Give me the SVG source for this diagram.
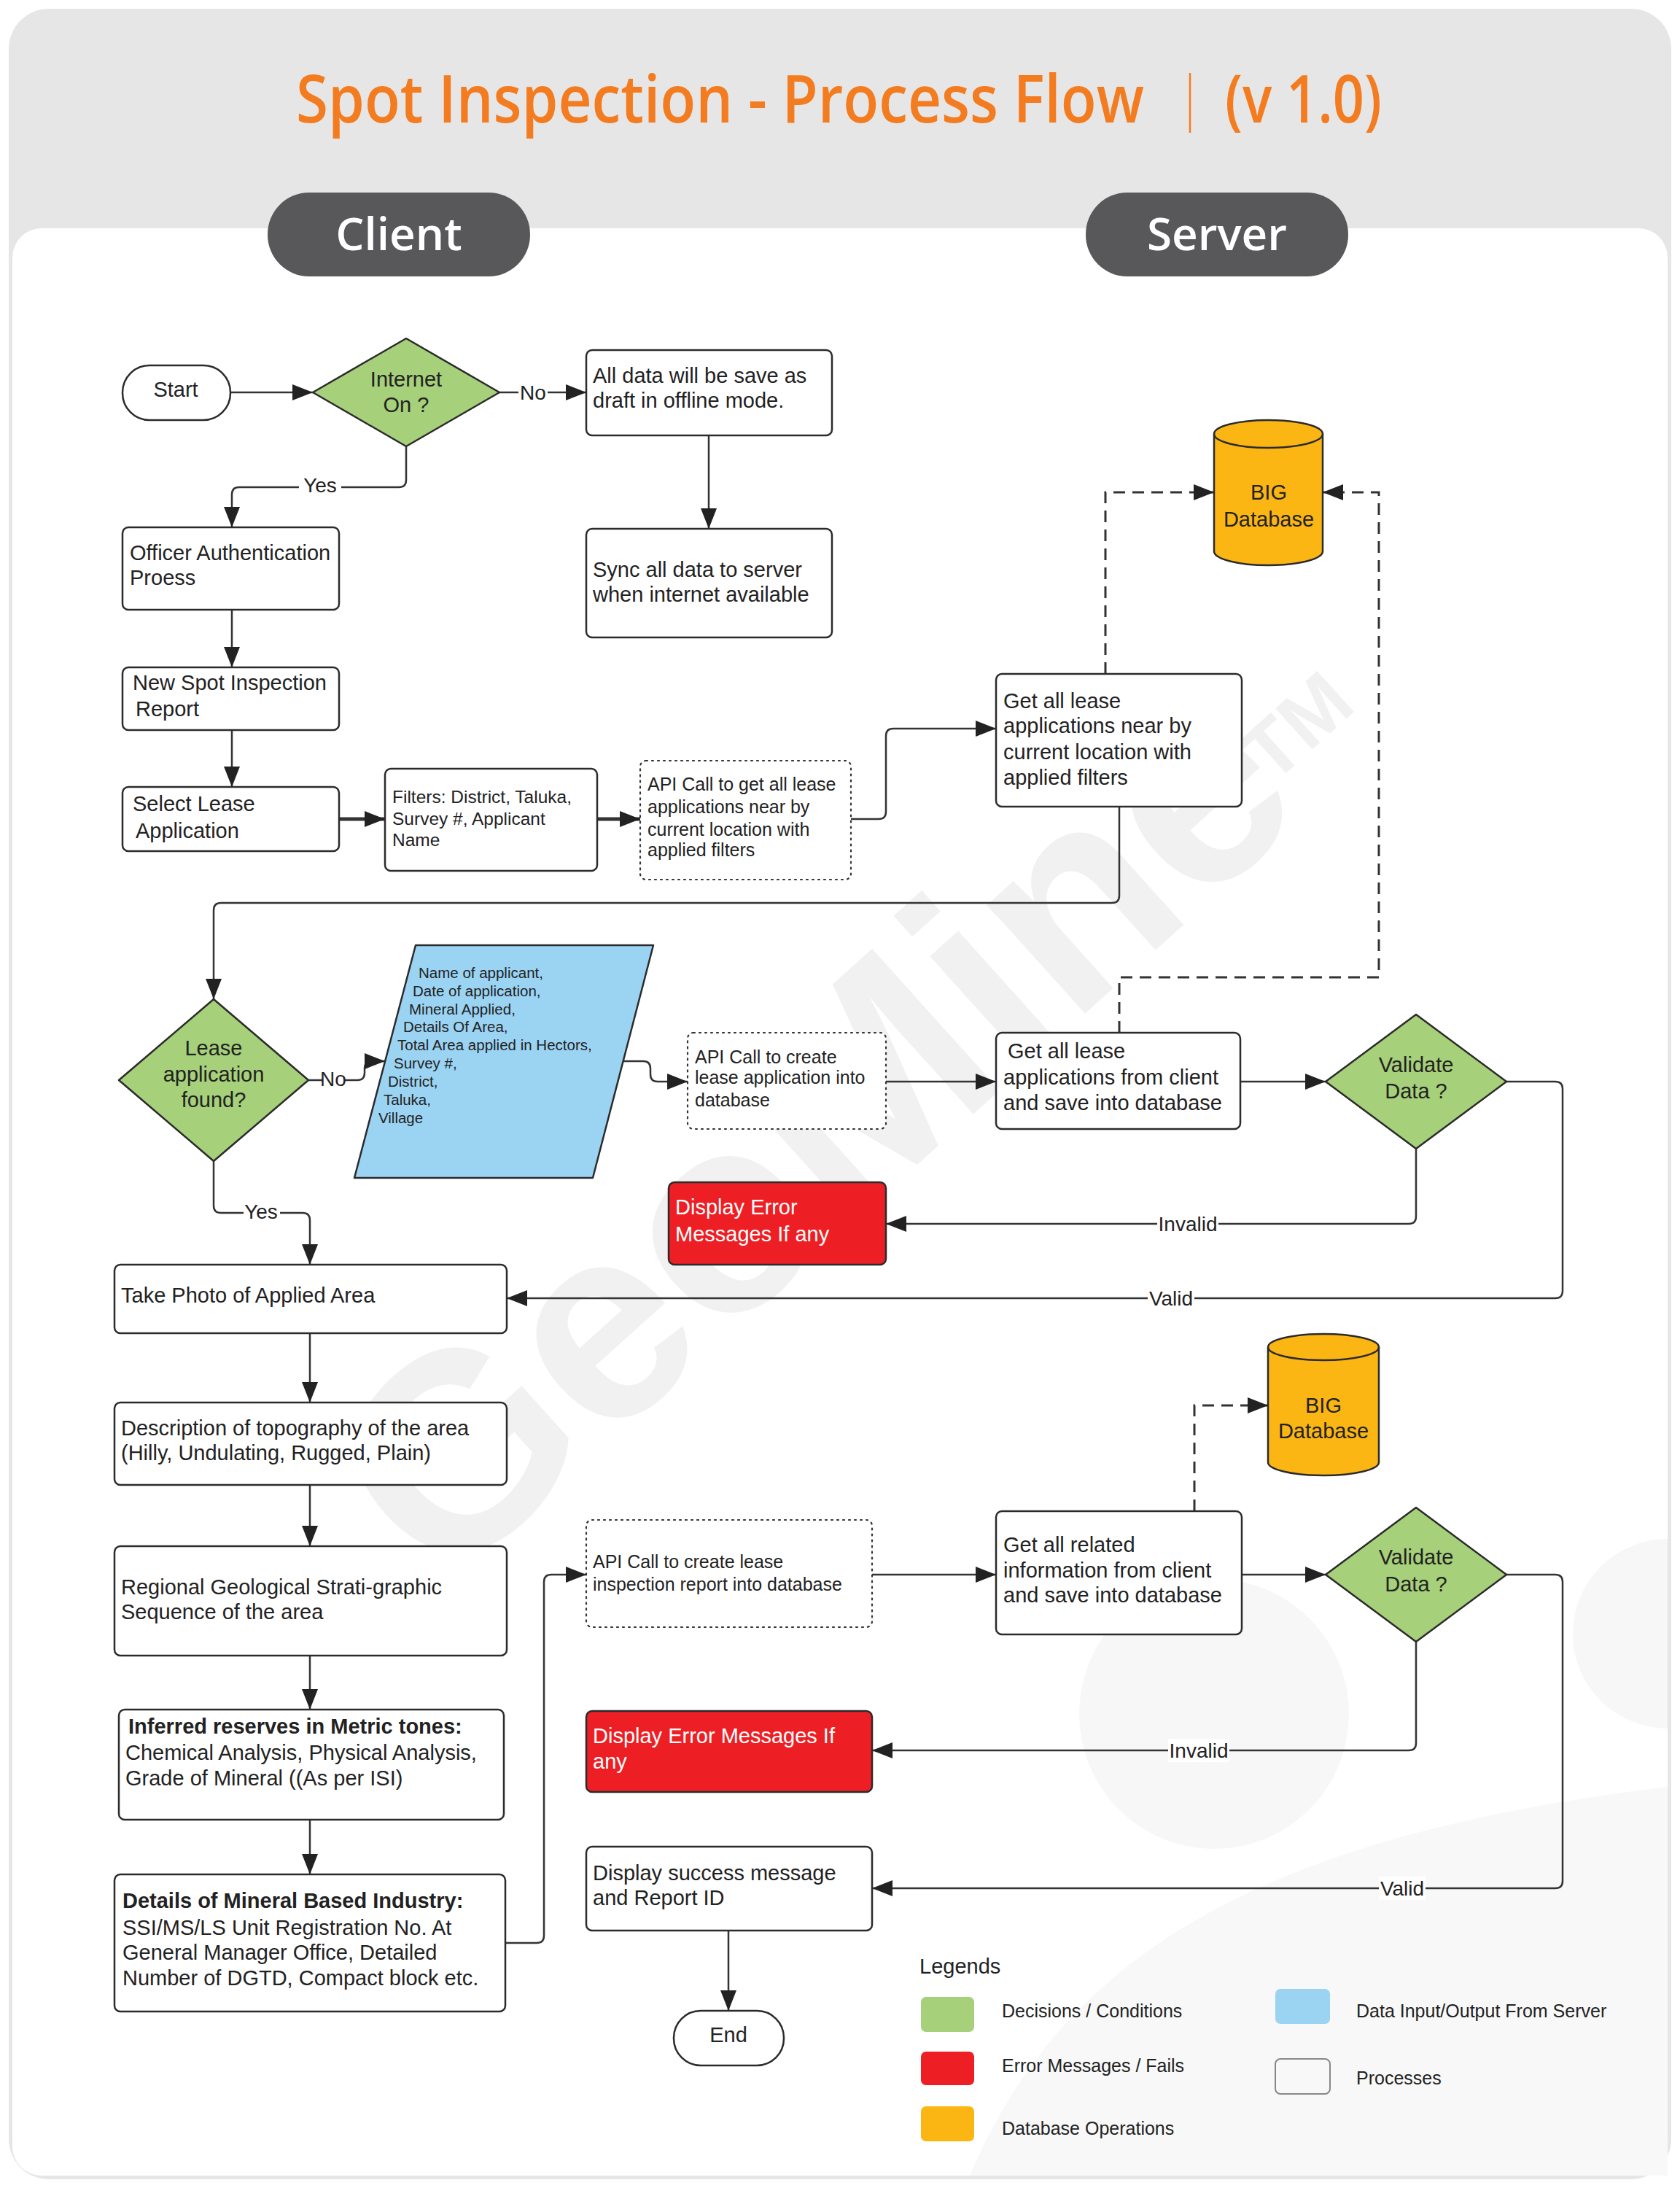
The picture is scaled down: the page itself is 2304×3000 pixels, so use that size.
<svg xmlns="http://www.w3.org/2000/svg" width="2304" height="3000" viewBox="0 0 2304 3000">
<defs>
<style>
.t{font-family:"Liberation Sans",Arial,sans-serif;font-size:29px;fill:#222}
.s25{font-size:25px}
.s24{font-size:24.5px}
.s20{font-size:20.5px}
.b{font-weight:bold}
.w{fill:#fff}
.c{text-anchor:middle}
.box{fill:#fff;stroke:#2b2b2b;stroke-width:2.5}
.dot{fill:#fff;stroke:#333;stroke-width:2.2;stroke-dasharray:2 6;stroke-linecap:round}
.dec{fill:#a6d07a;stroke:#2b2b2b;stroke-width:2.5;stroke-linejoin:round}
.err{fill:#ed1f24;stroke:#2b2b2b;stroke-width:2.5}
.db{fill:#fcb614;stroke:#2b2b2b;stroke-width:2.5}
.io{fill:#9bd3f3;stroke:#2b2b2b;stroke-width:2.5;stroke-linejoin:round}
.ln{fill:none;stroke:#333;stroke-width:2.5;marker-end:url(#ah)}
.thk{stroke-width:5}
.dash{fill:none;stroke:#333;stroke-width:3;stroke-dasharray:16 10;marker-end:url(#ah)}
.lbl{font-family:"Liberation Sans",Arial,sans-serif;font-size:28px;fill:#222;text-anchor:middle}
.wm{font-family:"Liberation Sans",Arial,sans-serif;font-weight:bold;fill:#f1f1f1}
.pill{font-family:"Open Sans","Liberation Sans",sans-serif;font-weight:600;font-size:62px;fill:#fff;text-anchor:middle}
.ttl{font-family:"Open Sans","Liberation Sans",sans-serif;font-weight:600;font-size:70px;fill:#f47c20}
</style>
<marker id="ah" markerUnits="userSpaceOnUse" markerWidth="30" markerHeight="24" refX="28" refY="11" orient="auto">
<path d="M0,0 L28,11 L0,22 Z" fill="#222"/>
</marker>
</defs>

<!-- background -->
<rect x="12" y="12" width="2280" height="2976" rx="55" fill="#e6e6e6"/>
<rect x="17" y="313" width="2270" height="2670" rx="40" fill="#fff"/>

<!-- faint logo shapes -->
<g id="bg-logo">
<circle cx="1665" cy="2350" r="185" fill="#f7f7f7"/>
<path d="M2287,2110 A130,130 0 0 0 2287,2370 Z" fill="#f7f7f7"/>
<path d="M1330,2983 C1450,2700 1700,2520 2287,2450 V2983 Z" fill="#f8f8f8"/>
<text class="wm" font-size="380" text-anchor="middle" transform="translate(1112,1548) rotate(-42)" dy="134">GeoMine</text>
<text class="wm" font-size="110" text-anchor="middle" transform="translate(1778,996) rotate(-42)" dy="38">TM</text>
</g>

<!-- title -->
<g id="title">
<text class="ttl" transform="translate(406,168) scale(1,1.3)" x="0" y="0" textLength="1163" lengthAdjust="spacingAndGlyphs">Spot Inspection - Process Flow</text>
<line x1="1632" y1="100" x2="1632" y2="182" stroke="#f47c20" stroke-width="2.5"/>
<text class="ttl" transform="translate(1680,168) scale(1,1.3)" x="0" y="0" textLength="215" lengthAdjust="spacingAndGlyphs">(v 1.0)</text>
</g>

<g id="lane-client">
<rect x="367" y="264" width="360" height="115" rx="57" fill="#58585a"/>
<text class="pill" x="547" y="343">Client</text>
</g>
<g id="lane-server">
<rect x="1489" y="264" width="360" height="115" rx="57" fill="#58585a"/>
<text class="pill" x="1669" y="343">Server</text>
</g>

<!-- connectors -->
<g id="connectors">
<path class="ln" d="M316,538 H429"/>
<path class="ln" d="M685,538 H804"/>
<path class="ln" d="M557,612 V658 Q557,668 547,668 H328 Q318,668 318,678 V723"/>
<path class="ln" d="M972,597 V725"/>
<path class="ln" d="M318,836 V915"/>
<path class="ln" d="M318,1001 V1079"/>
<path class="ln thk" d="M465,1123 H528"/>
<path class="ln thk" d="M819,1123 H878"/>
<path class="ln" d="M1167,1123 H1205 Q1215,1123 1215,1113 V1009 Q1215,999 1225,999 H1366"/>
<path class="ln" d="M1535,1106 V1228 Q1535,1238 1525,1238 H303 Q293,1238 293,1248 V1370"/>
<path class="dash" d="M1516,924 V675 H1665"/>
<path class="dash" d="M1535,1416 V1340 H1891 V675 H1814"/>
<path class="ln" d="M423,1481 H490 Q500,1481 500,1471 V1465 Q500,1455 510,1455 H528"/>
<path class="ln" d="M855,1455 H882 Q892,1455 892,1465 V1473 Q892,1483 902,1483 H943"/>
<path class="ln" d="M1215,1483 H1366"/>
<path class="ln" d="M1701,1483 H1818"/>
<path class="ln" d="M1942,1575 V1668 Q1942,1678 1932,1678 H1215"/>
<path class="ln" d="M2066,1483 H2133 Q2143,1483 2143,1493 V1770 Q2143,1780 2133,1780 H695"/>
<path class="ln" d="M293,1592 V1653 Q293,1663 303,1663 H415 Q425,1663 425,1673 V1734"/>
<path class="ln" d="M425,1828 V1923"/>
<path class="ln" d="M425,2036 V2120"/>
<path class="ln" d="M425,2270 V2344"/>
<path class="ln" d="M425,2495 V2570"/>
<path class="ln" d="M693,2664 H736 Q746,2664 746,2654 V2169 Q746,2159 756,2159 H804"/>
<path class="ln" d="M1196,2159 H1366"/>
<path class="dash" d="M1638,2072 V1927 H1739"/>
<path class="ln" d="M1703,2159 H1818"/>
<path class="ln" d="M1942,2251 V2390 Q1942,2400 1932,2400 H1196"/>
<path class="ln" d="M2066,2159 H2133 Q2143,2159 2143,2169 V2579 Q2143,2589 2133,2589 H1196"/>
<path class="ln" d="M999,2647 V2757"/>
<!-- labels -->
<rect x="711" y="522" width="40" height="32" fill="#fff"/><text class="lbl" x="731" y="548">No</text>
<rect x="410" y="646" width="58" height="36" fill="#fff"/><text class="lbl" x="439" y="675" font-size="31">Yes</text>
<rect x="442" y="1467" width="30" height="27" fill="#fff"/><text class="lbl" x="457" y="1489" font-size="24">No</text>
<rect x="334" y="1646" width="50" height="32" fill="#fff"/><text class="lbl" x="358" y="1671">Yes</text>
<rect x="1587" y="1662" width="84" height="32" fill="#fff"/><text class="lbl" x="1629" y="1688">Invalid</text>
<rect x="1574" y="1764" width="64" height="32" fill="#fff"/><text class="lbl" x="1606" y="1790">Valid</text>
<rect x="1602" y="2384" width="84" height="32" fill="#fff"/><text class="lbl" x="1644" y="2410">Invalid</text>
<rect x="1891" y="2573" width="64" height="32" fill="#fff"/><text class="lbl" x="1923" y="2599">Valid</text>
</g>

<!-- nodes -->
<g id="start">
<rect class="box" x="168" y="501" width="148" height="75" rx="37"/>
<text class="t c" x="241" y="544">Start</text>
</g>
<g id="internet-on">
<path class="dec" d="M557,464 L685,538 L557,612 L429,538 Z"/>
<text class="t c" x="557" y="530">Internet</text>
<text class="t c" x="557" y="565">On ?</text>
</g>
<g id="offline-draft">
<rect class="box" x="804" y="480" width="337" height="117" rx="8"/>
<text class="t" x="813" y="525">All data will be save as</text>
<text class="t" x="813" y="559">draft in offline mode.</text>
</g>
<g id="sync-data">
<rect class="box" x="804" y="725" width="337" height="149" rx="8"/>
<text class="t" x="813" y="791">Sync all data to server</text>
<text class="t" x="813" y="825">when internet available</text>
</g>
<g id="officer-auth">
<rect class="box" x="168" y="723" width="297" height="113" rx="8"/>
<text class="t" x="178" y="768">Officer Authentication</text>
<text class="t" x="178" y="802">Proess</text>
</g>
<g id="new-report">
<rect class="box" x="168" y="915" width="297" height="86" rx="8"/>
<text class="t" x="182" y="946">New Spot Inspection</text>
<text class="t" x="186" y="982">Report</text>
</g>
<g id="select-lease">
<rect class="box" x="168" y="1079" width="297" height="88" rx="8"/>
<text class="t" x="182" y="1112">Select Lease</text>
<text class="t" x="186" y="1149">Application</text>
</g>
<g id="filters">
<rect class="box" x="528" y="1054" width="291" height="140" rx="8"/>
<text class="t s24" x="538" y="1101">Filters: District, Taluka,</text>
<text class="t s24" x="538" y="1131">Survey #, Applicant</text>
<text class="t s24" x="538" y="1160">Name</text>
</g>
<g id="api-get-lease">
<rect class="dot" x="878" y="1043" width="289" height="163" rx="8"/>
<text class="t s25" x="888" y="1084">API Call to get all lease</text>
<text class="t s25" x="888" y="1115">applications near by</text>
<text class="t s25" x="888" y="1146">current location with</text>
<text class="t s25" x="888" y="1174">applied filters</text>
</g>
<g id="get-lease-near">
<rect class="box" x="1366" y="924" width="337" height="182" rx="8"/>
<text class="t" x="1376" y="971">Get all lease</text>
<text class="t" x="1376" y="1005">applications near by</text>
<text class="t" x="1376" y="1041">current location with</text>
<text class="t" x="1376" y="1076">applied filters</text>
</g>
<g id="db-1">
<path class="db" d="M1665,595 A74.5,19 0 0 1 1814,595 V756 A74.5,19 0 0 1 1665,756 Z"/>
<path d="M1665,595 A74.5,19 0 0 0 1814,595" fill="none" stroke="#2b2b2b" stroke-width="2.5"/>
<text class="t c" x="1740" y="685">BIG</text>
<text class="t c" x="1740" y="722">Database</text>
</g>
<g id="lease-found">
<path class="dec" d="M293,1370 L423,1481 L293,1592 L163,1481 Z"/>
<text class="t c" x="293" y="1447">Lease</text>
<text class="t c" x="293" y="1483">application</text>
<text class="t c" x="293" y="1518">found?</text>
</g>
<g id="lease-data">
<path class="io" d="M570,1296 L896,1296 L813,1615 L486,1615 Z"/>
<text class="t s20" x="574" y="1341">Name of applicant,</text>
<text class="t s20" x="566" y="1366">Date of application,</text>
<text class="t s20" x="561" y="1391">Mineral Applied,</text>
<text class="t s20" x="553" y="1415">Details Of Area,</text>
<text class="t s20" x="545" y="1440">Total Area applied in Hectors,</text>
<text class="t s20" x="540" y="1465">Survey #,</text>
<text class="t s20" x="532" y="1490">District,</text>
<text class="t s20" x="526" y="1515">Taluka,</text>
<text class="t s20" x="519" y="1540">Village</text>
</g>
<g id="api-create-lease">
<rect class="dot" x="943" y="1416" width="272" height="132" rx="8"/>
<text class="t s25" x="953" y="1458">API Call to create</text>
<text class="t s25" x="953" y="1486">lease application into</text>
<text class="t s25" x="953" y="1517">database</text>
</g>
<g id="save-lease">
<rect class="box" x="1366" y="1416" width="335" height="132" rx="8"/>
<text class="t" x="1382" y="1451">Get all lease</text>
<text class="t" x="1376" y="1487">applications from client</text>
<text class="t" x="1376" y="1522">and save into database</text>
</g>
<g id="validate-1">
<path class="dec" d="M1942,1391 L2066,1483 L1942,1575 L1818,1483 Z"/>
<text class="t c" x="1942" y="1470">Validate</text>
<text class="t c" x="1942" y="1506">Data ?</text>
</g>
<g id="error-1">
<rect class="err" x="917" y="1621" width="298" height="113" rx="8"/>
<text class="t w" x="926" y="1665">Display Error</text>
<text class="t w" x="926" y="1702">Messages If any</text>
</g>
<g id="take-photo">
<rect class="box" x="157" y="1734" width="538" height="94" rx="8"/>
<text class="t" x="166" y="1786">Take Photo of Applied Area</text>
</g>
<g id="topography">
<rect class="box" x="157" y="1923" width="538" height="113" rx="8"/>
<text class="t" x="166" y="1968">Description of topography of the area</text>
<text class="t" x="166" y="2002">(Hilly, Undulating, Rugged, Plain)</text>
</g>
<g id="stratigraphic">
<rect class="box" x="157" y="2120" width="538" height="150" rx="8"/>
<text class="t" x="166" y="2186">Regional Geological Strati-graphic</text>
<text class="t" x="166" y="2220">Sequence of the area</text>
</g>
<g id="reserves">
<rect class="box" x="163" y="2344" width="528" height="151" rx="8"/>
<text class="t b" x="176" y="2377">Inferred reserves in Metric tones:</text>
<text class="t" x="172" y="2413">Chemical Analysis, Physical Analysis,</text>
<text class="t" x="172" y="2448">Grade of Mineral ((As per ISI)</text>
</g>
<g id="industry">
<rect class="box" x="157" y="2570" width="536" height="188" rx="8"/>
<text class="t b" x="168" y="2616">Details of Mineral Based Industry:</text>
<text class="t" x="168" y="2653">SSI/MS/LS Unit Registration No. At</text>
<text class="t" x="168" y="2687">General Manager Office, Detailed</text>
<text class="t" x="168" y="2722">Number of DGTD, Compact block etc.</text>
</g>
<g id="api-create-report">
<rect class="dot" x="804" y="2084" width="392" height="147" rx="8"/>
<text class="t s25" x="813" y="2150">API Call to create lease</text>
<text class="t s25" x="813" y="2181">inspection report into database</text>
</g>
<g id="save-report">
<rect class="box" x="1366" y="2072" width="337" height="169" rx="8"/>
<text class="t" x="1376" y="2128">Get all related</text>
<text class="t" x="1376" y="2163">information from client</text>
<text class="t" x="1376" y="2197">and save into database</text>
</g>
<g id="db-2">
<path class="db" d="M1739,1847 A76,18 0 0 1 1891,1847 V2005 A76,18 0 0 1 1739,2005 Z"/>
<path d="M1739,1847 A76,18 0 0 0 1891,1847" fill="none" stroke="#2b2b2b" stroke-width="2.5"/>
<text class="t c" x="1815" y="1937">BIG</text>
<text class="t c" x="1815" y="1972">Database</text>
</g>
<g id="validate-2">
<path class="dec" d="M1942,2067 L2066,2159 L1942,2251 L1818,2159 Z"/>
<text class="t c" x="1942" y="2145">Validate</text>
<text class="t c" x="1942" y="2182">Data ?</text>
</g>
<g id="error-2">
<rect class="err" x="804" y="2346" width="392" height="111" rx="8"/>
<text class="t w" x="813" y="2390">Display Error Messages If</text>
<text class="t w" x="813" y="2425">any</text>
</g>
<g id="success">
<rect class="box" x="804" y="2532" width="392" height="115" rx="8"/>
<text class="t" x="813" y="2578">Display success message</text>
<text class="t" x="813" y="2612">and Report ID</text>
</g>
<g id="end">
<rect class="box" x="924" y="2757" width="151" height="75" rx="37"/>
<text class="t c" x="999" y="2800">End</text>
</g>

<!-- legend -->
<g id="legend">
<text class="t" x="1261" y="2706">Legends</text>
<rect x="1263" y="2738" width="73" height="48" rx="7" fill="#a6d07a"/>
<rect x="1263" y="2813" width="73" height="46" rx="7" fill="#ed1f24"/>
<rect x="1263" y="2888" width="73" height="48" rx="7" fill="#fcb614"/>
<rect x="1749" y="2727" width="75" height="48" rx="7" fill="#9bd3f3"/>
<rect x="1749" y="2823" width="75" height="48" rx="7" fill="#f8f8f8" stroke="#888" stroke-width="2"/>
<text class="t s25" x="1374" y="2766">Decisions / Conditions</text>
<text class="t s25" x="1374" y="2841">Error Messages / Fails</text>
<text class="t s25" x="1374" y="2927">Database Operations</text>
<text class="t s25" x="1860" y="2766">Data Input/Output From Server</text>
<text class="t s25" x="1860" y="2858">Processes</text>
</g>
</svg>
